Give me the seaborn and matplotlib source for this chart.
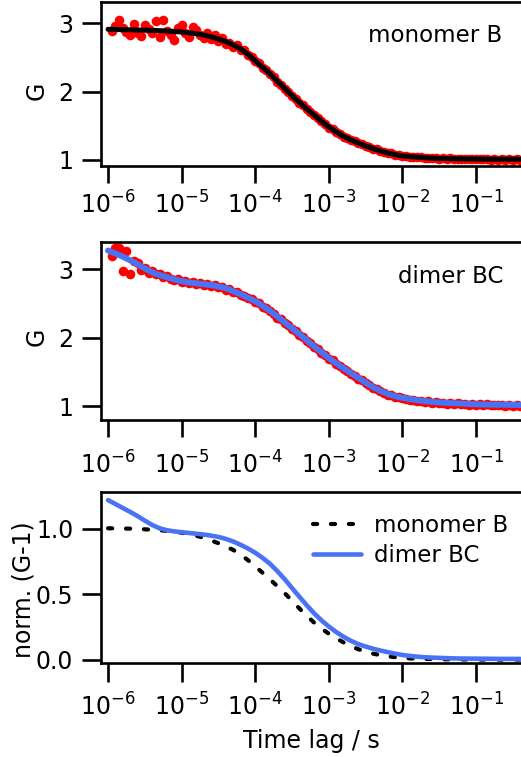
import numpy as np
import pandas as pd
import seaborn as sns
import matplotlib
matplotlib.use("Agg")
from matplotlib import pyplot as plt
from matplotlib.ticker import FixedLocator, FixedFormatter, NullLocator

sns.set_style("ticks")
plt.rcParams['font.family'] = ['DejaVu Sans']
plt.rcParams['mathtext.fontset'] = 'dejavusans'
for key in ['text.color', 'axes.edgecolor', 'axes.labelcolor', 'xtick.color', 'ytick.color']:
    plt.rcParams[key] = 'black'

# measured correlation points, log10 of lag time (s)
log_lag = [-5.95, -5.90, -5.85, -5.80, -5.75, -5.70, -5.65, -5.60,
           -5.55, -5.50, -5.45, -5.40, -5.35, -5.30, -5.25, -5.20,
           -5.15, -5.10, -5.05, -5.00, -4.95, -4.90, -4.85, -4.80,
           -4.75, -4.70, -4.65, -4.60, -4.55, -4.50, -4.45, -4.40,
           -4.35, -4.30, -4.25, -4.20, -4.15, -4.10, -4.05, -4.00,
           -3.95, -3.90, -3.85, -3.80, -3.75, -3.70, -3.65, -3.60,
           -3.55, -3.50, -3.45, -3.40, -3.35, -3.30, -3.25, -3.20,
           -3.15, -3.10, -3.05, -3.00, -2.95, -2.90, -2.85, -2.80,
           -2.75, -2.70, -2.65, -2.60, -2.55, -2.50, -2.45, -2.40,
           -2.35, -2.30, -2.25, -2.20, -2.15, -2.10, -2.05, -2.00,
           -1.95, -1.90, -1.85, -1.80, -1.75, -1.70, -1.65, -1.60,
           -1.55, -1.50, -1.45, -1.40, -1.35, -1.30, -1.25, -1.20,
           -1.15, -1.10, -1.05, -1.00, -0.95, -0.90, -0.85, -0.80,
           -0.75, -0.70, -0.65, -0.60, -0.55, -0.50, -0.45, -0.40]

g_monomer = [2.88, 2.96, 3.04, 2.93, 2.87, 2.83, 2.99, 2.85,
             2.81, 2.98, 2.92, 2.86, 3.03, 2.80, 3.04, 2.88,
             2.82, 2.76, 2.93, 2.97, 2.85, 2.80, 2.94, 2.90,
             2.82, 2.78, 2.86, 2.77, 2.82, 2.74, 2.78, 2.70,
             2.71, 2.65, 2.68, 2.61, 2.60, 2.53, 2.51, 2.44,
             2.41, 2.34, 2.31, 2.25, 2.21, 2.14, 2.10, 2.04,
             2.00, 1.93, 1.895, 1.835, 1.80, 1.74, 1.705, 1.65,
             1.615, 1.565, 1.525, 1.465, 1.445, 1.405, 1.38, 1.34,
             1.325, 1.29, 1.275, 1.24, 1.23, 1.20, 1.19, 1.16,
             1.155, 1.125, 1.12, 1.095, 1.095, 1.075, 1.07, 1.055,
             1.056, 1.044, 1.047, 1.036, 1.039, 1.029, 1.031, 1.021,
             1.026, 1.018, 1.023, 1.014, 1.02, 1.012, 1.018, 1.01,
             1.016, 1.009, 1.015, 1.008, 1.014, 1.006, 1.013, 1.005,
             1.014, 1.004, 1.012, 1.005, 1.013, 1.003, 1.012, 1.004]

g_dimer = [3.19, 3.30, 3.31, 2.97, 3.26, 2.92, 3.12, 3.09,
           2.99, 3.01, 2.94, 2.97, 2.92, 2.93, 2.88, 2.90,
           2.86, 2.84, 2.85, 2.81, 2.83, 2.79, 2.81, 2.78,
           2.80, 2.77, 2.78, 2.75, 2.77, 2.73, 2.74, 2.70,
           2.71, 2.66, 2.66, 2.62, 2.61, 2.57, 2.56, 2.52,
           2.50, 2.45, 2.43, 2.38, 2.35, 2.29, 2.265, 2.21,
           2.18, 2.125, 2.095, 2.04, 2.01, 1.95, 1.92, 1.86,
           1.83, 1.775, 1.745, 1.69, 1.665, 1.615, 1.59, 1.54,
           1.515, 1.47, 1.445, 1.40, 1.378, 1.335, 1.313, 1.27,
           1.25, 1.215, 1.195, 1.165, 1.16, 1.138, 1.135, 1.112,
           1.108, 1.09, 1.093, 1.075, 1.079, 1.063, 1.066, 1.05,
           1.056, 1.043, 1.049, 1.035, 1.043, 1.028, 1.038, 1.025,
           1.033, 1.02, 1.029, 1.015, 1.026, 1.012, 1.024, 1.01,
           1.022, 1.008, 1.02, 1.007, 1.019, 1.006, 1.018, 1.005]

# fitted curves, log10 of lag time (s)
log_fit = [-6.0, -5.9, -5.8, -5.7, -5.6, -5.5, -5.4, -5.3, -5.2, -5.1,
           -5.0, -4.9, -4.8, -4.7, -4.6, -4.5, -4.4, -4.3, -4.2, -4.1,
           -4.0, -3.9, -3.8, -3.7, -3.6, -3.5, -3.4, -3.3, -3.2, -3.1,
           -3.0, -2.9, -2.8, -2.7, -2.6, -2.5, -2.4, -2.3, -2.2, -2.1,
           -2.0, -1.9, -1.8, -1.7, -1.6, -1.5, -1.4, -1.3, -1.2, -1.1,
           -1.0, -0.9, -0.8, -0.7, -0.6, -0.5, -0.4]
fit_monomer = [2.91, 2.908, 2.905, 2.903, 2.90, 2.898, 2.895, 2.89, 2.885, 2.878,
               2.87, 2.859, 2.845, 2.825, 2.80, 2.768, 2.73, 2.683, 2.625, 2.545,
               2.45, 2.355, 2.26, 2.152, 2.045, 1.94, 1.84, 1.745, 1.655, 1.565,
               1.48, 1.41, 1.345, 1.292, 1.246, 1.204, 1.165, 1.13, 1.10, 1.077,
               1.058, 1.047, 1.04, 1.032, 1.025, 1.021, 1.018, 1.016, 1.014, 1.013,
               1.012, 1.011, 1.01, 1.01, 1.01, 1.01, 1.01]
fit_dimer = [3.27, 3.227, 3.18, 3.126, 3.07, 3.01, 2.95, 2.912, 2.88, 2.849,
             2.822, 2.803, 2.79, 2.778, 2.765, 2.745, 2.72, 2.678, 2.63, 2.582,
             2.53, 2.463, 2.39, 2.307, 2.222, 2.136, 2.05, 1.96, 1.87, 1.785,
             1.70, 1.625, 1.55, 1.48, 1.41, 1.342, 1.275, 1.222, 1.175, 1.142,
             1.12, 1.101, 1.085, 1.072, 1.06, 1.052, 1.045, 1.04, 1.035, 1.03,
             1.025, 1.022, 1.02, 1.019, 1.018, 1.016, 1.015]
norm_monomer = [1.005, 1.004, 1.003, 1.002, 1.0, 0.997, 0.994, 0.99, 0.985, 0.979,
                0.971, 0.961, 0.948, 0.932, 0.912, 0.891, 0.866, 0.84, 0.805, 0.762,
                0.715, 0.665, 0.615, 0.563, 0.51, 0.452, 0.393, 0.337, 0.285, 0.24,
                0.20, 0.165, 0.134, 0.106, 0.082, 0.063, 0.048, 0.037, 0.028, 0.021,
                0.015, 0.012, 0.01, 0.008, 0.007, 0.006, 0.005, 0.0045, 0.004, 0.0035,
                0.003, 0.003, 0.003, 0.003, 0.003, 0.003, 0.003]
norm_dimer = [1.22, 1.19, 1.16, 1.13, 1.098, 1.063, 1.03, 1.005, 0.99, 0.981,
              0.975, 0.969, 0.963, 0.957, 0.949, 0.939, 0.924, 0.904, 0.879, 0.851,
              0.818, 0.779, 0.734, 0.678, 0.616, 0.549, 0.482, 0.417, 0.356, 0.302,
              0.255, 0.213, 0.177, 0.146, 0.121, 0.102, 0.086, 0.072, 0.06, 0.048,
              0.038, 0.031, 0.025, 0.021, 0.018, 0.016, 0.014, 0.012, 0.011, 0.0105,
              0.01, 0.0095, 0.009, 0.0085, 0.008, 0.008, 0.008]

xtick_vals = [1e-6, 1e-5, 1e-4, 1e-3, 1e-2, 1e-1]
xtick_text = ['$10^{-6}$', '$10^{-5}$', '$10^{-4}$', '$10^{-3}$', '$10^{-2}$', '$10^{-1}$']

data = pd.DataFrame({'lag': 10.0 ** np.array(log_lag), 'mono': g_monomer, 'dimer': g_dimer})
fit = pd.DataFrame({'lag': 10.0 ** np.array(log_fit), 'mono': fit_monomer, 'dimer': fit_dimer,
                    'nmono': norm_monomer, 'ndimer': norm_dimer})

blue = '#4a72f5'
fs = 16.5
lfs = 17
tfs = 17

fig = plt.figure(figsize=(5.21, 7.57), dpi=100)
ax1 = fig.add_axes([0.194, 0.7807, 0.806, 0.2167])
ax2 = fig.add_axes([0.194, 0.4452, 0.806, 0.2351])
ax3 = fig.add_axes([0.194, 0.1242, 0.806, 0.2259])


def style(ax, ylim, yticks, ylabels, xlen, xpad):
    ax.set_xscale('log')
    ax.set_xlim(10 ** -6.095, 10 ** -0.389)
    ax.set_ylim(*ylim)
    ax.xaxis.set_major_locator(FixedLocator(xtick_vals))
    ax.xaxis.set_major_formatter(FixedFormatter(xtick_text))
    ax.xaxis.set_minor_locator(NullLocator())
    ax.set_yticks(yticks)
    ax.set_yticklabels(ylabels)
    ax.spines['right'].set_visible(False)
    for s in ['left', 'top', 'bottom']:
        ax.spines[s].set_linewidth(1.9)
    ax.tick_params(axis='x', length=xlen, width=1.9, pad=xpad, labelsize=tfs)
    ax.tick_params(axis='y', length=14, width=1.9, pad=6, labelsize=tfs)
    ax.set_xlabel('')


# top: monomer B
sns.scatterplot(data=data, x='lag', y='mono', color='red', s=48, linewidth=0, ax=ax1, zorder=2)
sns.lineplot(data=fit, x='lag', y='mono', color='black', linewidth=3.6, ax=ax1, zorder=3,
             estimator=None, sort=False)
style(ax1, (0.91, 3.31), [1, 2, 3], ['1', '2', '3'], 12, 6)
ax1.set_ylabel('G', fontsize=lfs)
ax1.yaxis.set_label_coords(-0.126, 0.457)
ax1.text(0.955, 0.756, 'monomer B', transform=ax1.transAxes, ha='right', va='baseline', fontsize=fs)

# middle: dimer BC
sns.scatterplot(data=data, x='lag', y='dimer', color='red', s=48, linewidth=0, ax=ax2, zorder=2)
sns.lineplot(data=fit, x='lag', y='dimer', color=blue, linewidth=4.3, ax=ax2, zorder=3,
             estimator=None, sort=False)
style(ax2, (0.796, 3.394), [1, 2, 3], ['1', '2', '3'], 12.5, 10)
ax2.set_ylabel('G', fontsize=lfs)
ax2.yaxis.set_label_coords(-0.126, 0.466)
ax2.text(0.957, 0.770, 'dimer BC', transform=ax2.transAxes, ha='right', va='baseline', fontsize=fs)

# bottom: normalised comparison
sns.lineplot(data=fit, x='lag', y='nmono', color='black', linewidth=3.0, ax=ax3,
             linestyle=(0, (1.0, 3.3)), dash_capstyle='round', label='monomer B',
             estimator=None, sort=False)
sns.lineplot(data=fit, x='lag', y='ndimer', color=blue, linewidth=3.3, ax=ax3,
             label='dimer BC', estimator=None, sort=False)
style(ax3, (-0.023, 1.282), [0.0, 0.5, 1.0], ['0.0', '0.5', '1.0'], 14, 8)
ax3.set_ylabel('norm. (G-1)', fontsize=lfs)
ax3.yaxis.set_label_coords(-0.157, 0.427)
ax3.set_xlabel('Time lag / s', fontsize=lfs)
ax3.xaxis.set_label_coords(0.5, -0.386)
ax3.legend(frameon=False, loc='upper right', bbox_to_anchor=(0.969, 0.871), borderaxespad=0,
           borderpad=0, handlelength=2.1, handletextpad=0.57, labelspacing=0.3, fontsize=fs)

fig.savefig('out.png', dpi=100)
